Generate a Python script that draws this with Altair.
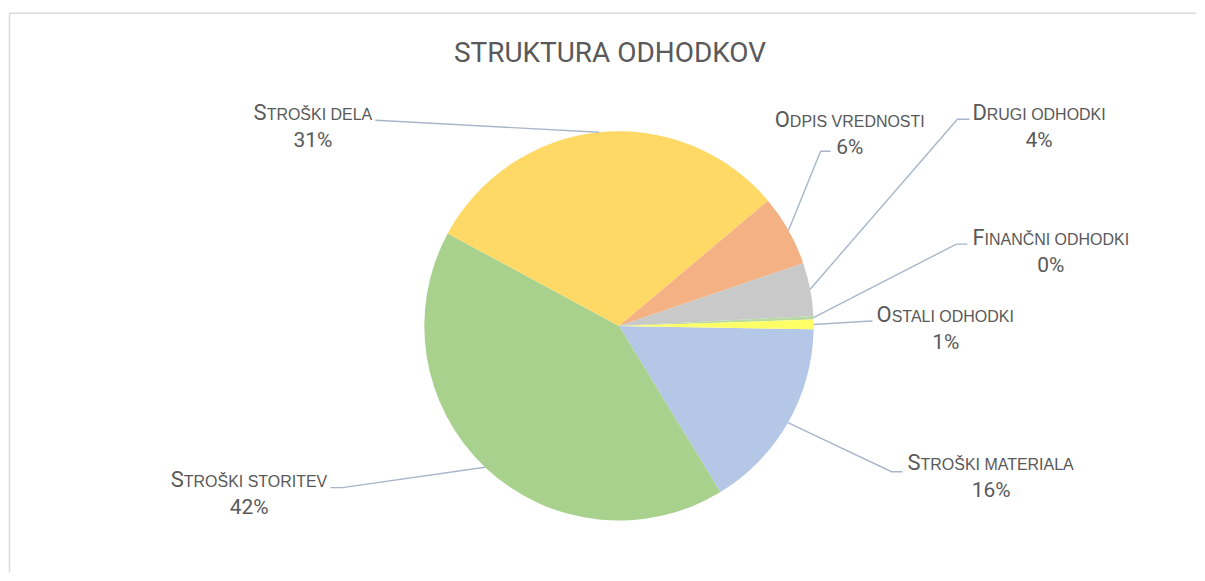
import math
import altair as alt
import pandas as pd

# ---------------- data ----------------
CATEGORIES = ["Stroški materiala", "Stroški storitev", "Stroški dela", "Odpis vrednosti",
              "Drugi odhodki", "Finančni odhodki", "Ostali odhodki"]
SHARES = [16.0, 41.6, 31.0, 5.9, 4.4, 0.3, 0.8]
COLORS = ["#B4C7E7", "#A9D18E", "#FFD966", "#F4B183", "#C9C9C9", "#B9D9A4", "#FFFF66"]
TITLE = "STRUKTURA ODHODKOV"

# ---------------- layout ----------------
W, H = 1189, 565
CX, CY, R = 611, 318, 195
START_DEG = 91
LABEL_LEFT = [900, 162, 245, 767, 965, 965, 869]
LABEL_BASE = [462, 479, 112, 119, 112, 237, 314]
LEADER_ELBOW = [(884, 464), (334, 480), (377, 112.4), (813, 143), (950, 111), (949, 236), (855, 313.5)]
LEADER_END = [(895, 464), (322, 480), (367, 112), (823, 143), (962, 111), (960, 236), (865, 313)]
LINE_GAP = 27
BIG, SMALL, PCT = 22, 16, 21
BIGFONT = "Roboto"
REG = "Liberation Sans"
TXT = "#595959"

ARIAL = {" ": 278, "A": 667, "C": 722, "Č": 722, "D": 722, "E": 667, "F": 611, "G": 778,
         "H": 722, "I": 278, "K": 667, "L": 556, "M": 833, "N": 722, "O": 778, "P": 667,
         "R": 722, "S": 667, "Š": 667, "T": 611, "U": 722, "V": 667}
ROBOTO = {"S": 594, "O": 689, "D": 656, "F": 553}


def width(s, size, table):
    return sum(table.get(c, 600) for c in s) / 1000 * size


total = sum(SHARES)
rows_pie, rows_lead, rows_lab = [], [], []
cum = 0.0
for i, (cat, v) in enumerate(zip(CATEGORIES, SHARES)):
    rows_pie.append({"cat": cat, "share": v, "idx": i})
    mid = math.radians(START_DEG + (cum + v / 2) / total * 360)
    cum += v
    px, py = CX + R * math.sin(mid), CY - R * math.cos(mid)
    for j, (x, y) in enumerate([(px, py), LEADER_ELBOW[i], LEADER_END[i]]):
        rows_lead.append({"cat": cat, "seq": j, "x": x, "y": y})
    up = cat.upper()
    first, rest = up[0], up[1:]
    wf = width(first, BIG, ROBOTO)
    wr = width(rest, SMALL, ARIAL)
    left = LABEL_LEFT[i]
    rows_lab.append({"cat": cat, "first": first, "rest": rest,
                     "pct": f"{round(v / total * 100)}%",
                     "x1": left, "x2": left + wf, "xc": left + (wf + wr) / 2,
                     "y1": LABEL_BASE[i], "y2": LABEL_BASE[i] + LINE_GAP})

pie_df = pd.DataFrame(rows_pie)
lead_df = pd.DataFrame(rows_lead)
lab_df = pd.DataFrame(rows_lab)
one = pd.DataFrame({"k": [0]})

a0 = math.radians(START_DEG)
pie = alt.Chart(pie_df).mark_arc(radius=R).encode(
    theta=alt.Theta("share:Q", stack=True, scale=alt.Scale(range=[a0, a0 + 2 * math.pi])),
    color=alt.Color("cat:N", scale=alt.Scale(domain=CATEGORIES, range=COLORS), legend=None),
    order=alt.Order("idx:Q"),
    x=alt.value(CX), y=alt.value(CY),
)

leaders = alt.Chart(lead_df).mark_line(color="#A9B6C9", strokeWidth=1.4).encode(
    x=alt.X("x:Q", scale=None), y=alt.Y("y:Q", scale=None),
    detail="cat:N", order="seq:Q",
)

t_first = alt.Chart(lab_df).mark_text(align="left", baseline="alphabetic", font=BIGFONT,
                                      fontSize=BIG, color=TXT).encode(
    x=alt.X("x1:Q", scale=None), y=alt.Y("y1:Q", scale=None), text="first:N")
t_rest = alt.Chart(lab_df).mark_text(align="left", baseline="alphabetic", font=REG,
                                     fontSize=SMALL, color=TXT).encode(
    x=alt.X("x2:Q", scale=None), y=alt.Y("y1:Q", scale=None), text="rest:N")
t_pct = alt.Chart(lab_df).mark_text(align="center", baseline="alphabetic", font=BIGFONT,
                                    fontSize=PCT, color=TXT).encode(
    x=alt.X("xc:Q", scale=None), y=alt.Y("y2:Q", scale=None), text="pct:N")

title = alt.Chart(one).mark_text(align="center", baseline="alphabetic", font=BIGFONT,
                                 fontSize=28, color=TXT, text=TITLE).encode(
    x=alt.value(602), y=alt.value(54))

frame_top = alt.Chart(one).mark_rule(color="#D9D9D9", strokeWidth=1.5).encode(
    x=alt.value(0), x2=alt.value(W), y=alt.value(4.8))
frame_left = alt.Chart(one).mark_rule(color="#D9D9D9", strokeWidth=1.5).encode(
    x=alt.value(0.5), y=alt.value(4.8), y2=alt.value(H))

chart = alt.layer(frame_top, frame_left, pie, leaders, t_first, t_rest, t_pct, title).properties(
    width=W, height=H, padding=0
).configure_view(strokeWidth=0)

chart.save("out.html", embed_options={"renderer": "svg", "actions": False})
